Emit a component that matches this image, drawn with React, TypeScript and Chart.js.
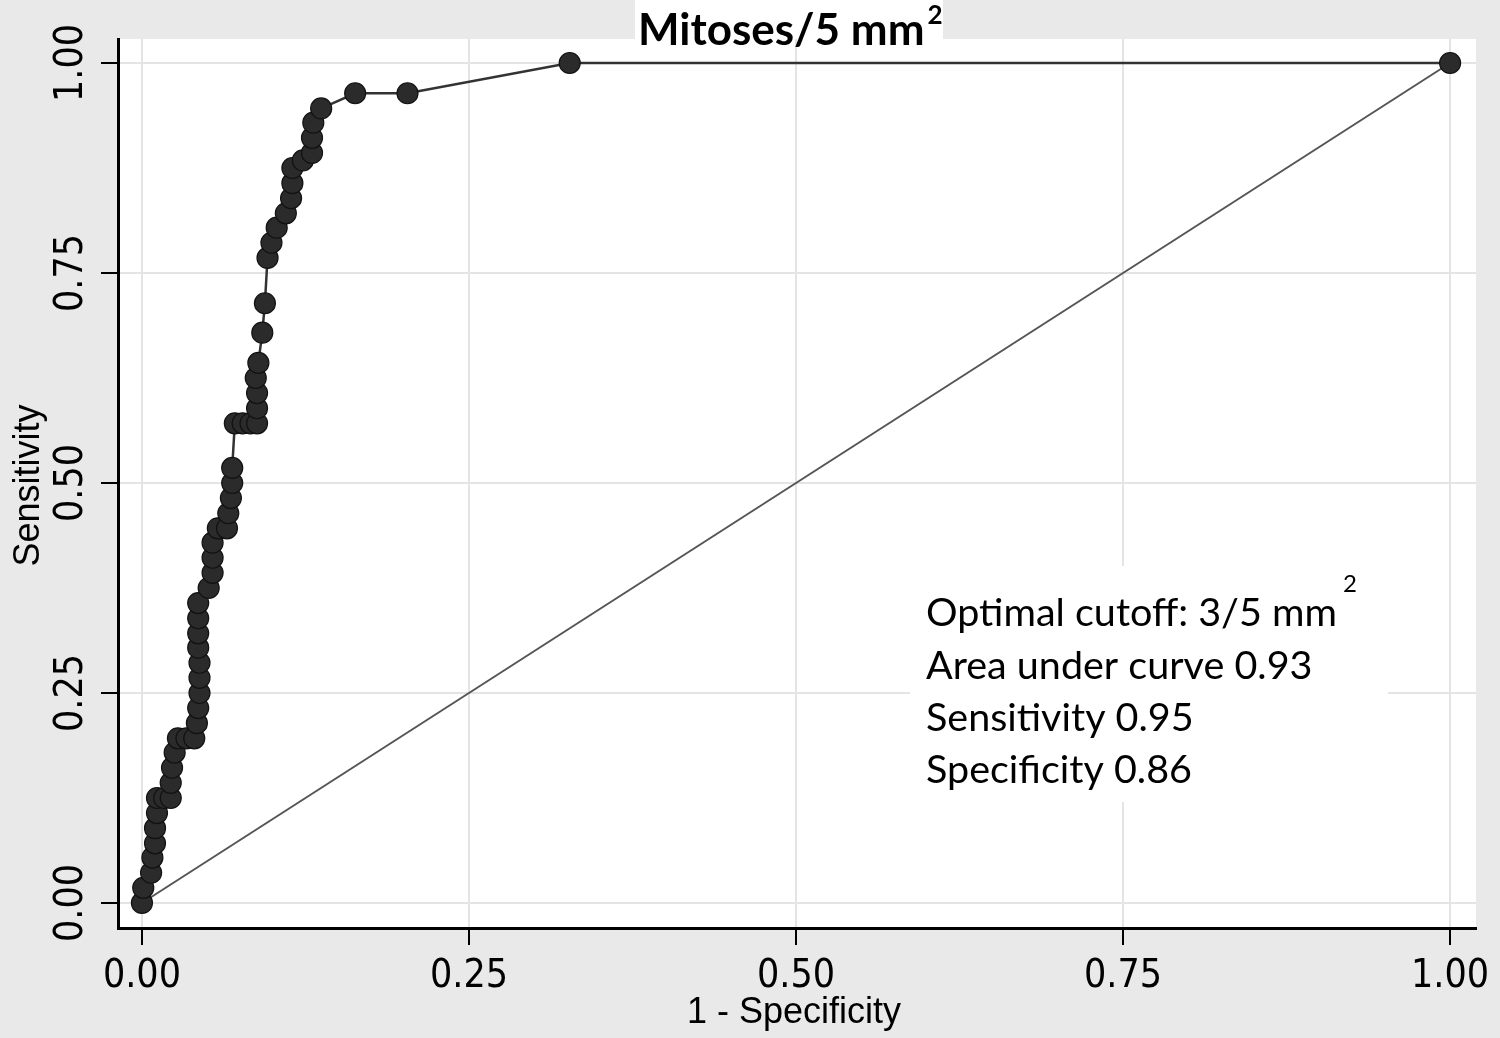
import React, { useEffect, useRef } from "react";
import { Chart, registerables } from "chart.js";

Chart.register(...registerables);

// ROC curve points: 1 - specificity (x) and sensitivity (y)
const oneMinusSpecificity = [
  0, 0.001, 0.007, 0.008, 0.01, 0.01, 0.0115, 0.0115, 0.017, 0.022,
  0.022, 0.023, 0.025, 0.0275, 0.034, 0.04, 0.042, 0.043, 0.044, 0.044,
  0.044, 0.043, 0.043, 0.043, 0.043, 0.051, 0.054, 0.054, 0.054, 0.058,
  0.065, 0.066, 0.068, 0.069, 0.069, 0.071, 0.077, 0.083, 0.088, 0.088,
  0.088, 0.087, 0.089, 0.092, 0.094, 0.096, 0.099, 0.103, 0.11, 0.114,
  0.115, 0.115, 0.123, 0.13, 0.13, 0.131, 0.137, 0.163, 0.203, 0.327, 1,
];
const sensitivity = [
  0, 0.018, 0.036, 0.054, 0.071, 0.089, 0.107, 0.125, 0.125, 0.125,
  0.143, 0.161, 0.179, 0.196, 0.196, 0.196, 0.214, 0.232, 0.25, 0.268,
  0.286, 0.304, 0.321, 0.339, 0.357, 0.375, 0.393, 0.411, 0.429, 0.446,
  0.446, 0.464, 0.482, 0.5, 0.518, 0.571, 0.571, 0.571, 0.571, 0.589,
  0.607, 0.625, 0.643, 0.679, 0.714, 0.768, 0.786, 0.804, 0.821, 0.839,
  0.857, 0.875, 0.884, 0.893, 0.911, 0.929, 0.946, 0.964, 0.964, 1, 1,
];
const referenceX = [0, 1];
const referenceY = [0, 1];

const tickValues = [0, 0.25, 0.5, 0.75, 1];
const tickLabels = ["0.00", "0.25", "0.50", "0.75", "1.00"];

const chartTitle = "Mitoses/5 mm";
const chartTitleSup = "2";
const xAxisTitle = "1 - Specificity";
const yAxisTitle = "Sensitivity";
const annotationLines = [
  "Optimal cutoff: 3/5 mm",
  "Area under curve 0.93",
  "Sensitivity 0.95",
  "Specificity 0.86",
];
const annotationSup = "2";

const TICK_FONT = '"Liberation Sans Narrow", "DejaVu Sans Condensed", "Liberation Sans", Arial, sans-serif';
const TITLE_FONT = '"Liberation Sans", Arial, sans-serif';
const TEXT_FONT = 'Lato, "Open Sans", sans-serif';

export default function App() {
  const canvasRef = useRef<HTMLCanvasElement | null>(null);

  useEffect(() => {
    document.body.style.margin = "0";
    document.body.style.background = "#e9e9e9";
    const canvas = canvasRef.current;
    if (!canvas) return;

    const decorPlugin = {
      id: "decor",
      beforeDraw(chart: any) {
        const { ctx, chartArea } = chart;
        ctx.save();
        ctx.fillStyle = "#e9e9e9";
        ctx.fillRect(0, 0, chart.width, chart.height);
        ctx.fillStyle = "#ffffff";
        ctx.fillRect(chartArea.left, chartArea.top, chartArea.right - chartArea.left, chartArea.bottom - chartArea.top);
        ctx.restore();
      },
      beforeDatasetsDraw(chart: any) {
        const { ctx } = chart;
        // white box behind annotation text (hides gridlines)
        ctx.save();
        ctx.fillStyle = "#ffffff";
        ctx.fillRect(910, 566, 478, 236);
        ctx.restore();
      },
      afterDraw(chart: any) {
        const { ctx, chartArea } = chart;
        const yScale = chart.scales.y;
        ctx.save();
        // y tick labels rotated
        ctx.fillStyle = "#000";
        ctx.font = `39px ${TICK_FONT}`;
        ctx.textAlign = "center";
        ctx.textBaseline = "middle";
        tickValues.forEach((v, i) => {
          const py = yScale.getPixelForValue(v);
          ctx.save();
          ctx.translate(72, py);
          ctx.rotate(-Math.PI / 2);
          ctx.fillText(tickLabels[i], 0, 0);
          ctx.restore();
        });
        // axis titles
        ctx.font = `36px ${TITLE_FONT}`;
        ctx.textBaseline = "middle";
        ctx.save();
        ctx.translate(29, (chartArea.top + chartArea.bottom) / 2 + 2);
        ctx.rotate(-Math.PI / 2);
        ctx.fillText(yAxisTitle, 0, 0);
        ctx.restore();
        ctx.fillText(xAxisTitle, 794, 1013);

        // chart title with white box
        ctx.fillStyle = "#ffffff";
        ctx.fillRect(635, 0, 308, 39);
        ctx.fillStyle = "#000";
        ctx.font = `bold 44px ${TEXT_FONT}`;
        ctx.textAlign = "left";
        ctx.textBaseline = "alphabetic";
        const tw = ctx.measureText(chartTitle).width;
        const tx = 638;
        ctx.fillText(chartTitle, tx, 45);
        ctx.font = `bold 26px ${TEXT_FONT}`;
        ctx.fillText(chartTitleSup, tx + tw + 3, 24);

        // annotation text
        ctx.font = `39.5px ${TEXT_FONT}`;
        const ax = 926;
        const baselines = [626, 679, 731, 783];
        annotationLines.forEach((line, i) => {
          ctx.fillText(line, ax, baselines[i]);
        });
        const w0 = ctx.measureText(annotationLines[0]).width;
        ctx.font = `24px ${TEXT_FONT}`;
        ctx.fillText(annotationSup, ax + w0 + 6, 592);
        ctx.restore();
      },
    };

    const rocData = oneMinusSpecificity.map((x, i) => ({ x, y: sensitivity[i] }));
    const refData = referenceX.map((x, i) => ({ x, y: referenceY[i] }));

    const chart = new Chart(canvas, {
      type: "scatter",
      data: {
        datasets: [
          {
            label: "ROC",
            data: rocData,
            showLine: true,
            borderColor: "#333333",
            borderWidth: 2.5,
            pointRadius: 10.5,
            pointBackgroundColor: "#2b2b2b",
            pointBorderColor: "#121212",
            pointBorderWidth: 1.2,
          },
          {
            label: "Reference",
            data: refData,
            showLine: true,
            borderColor: "#555555",
            borderWidth: 2,
            pointRadius: 0,
          },
        ],
      },
      options: {
        responsive: false,
        animation: false,
        events: [],
        layout: { padding: { top: 39, right: 24, left: 0, bottom: 0 } },
        plugins: {
          legend: { display: false },
          tooltip: { enabled: false },
          title: { display: false },
        },
        scales: {
          x: {
            type: "linear",
            min: -0.0183,
            max: 1.0198,
            afterBuildTicks: (s: any) => {
              s.ticks = tickValues.map((v) => ({ value: v }));
            },
            afterFit: (s: any) => {
              s.height = 110;
            },
            grid: {
              color: "#e4e4e4",
              lineWidth: 2,
              tickColor: "#000",
              tickLength: 17,
              tickWidth: 2,
            },
            border: { color: "#000", width: 3 },
            ticks: {
              color: "#000",
              font: { size: 39, family: TICK_FONT },
              padding: 8,
              maxRotation: 0,
              callback: (v: any) => {
                const i = tickValues.indexOf(Number(v));
                return i >= 0 ? tickLabels[i] : "";
              },
            },
          },
          y: {
            type: "linear",
            min: -0.0298,
            max: 1.0286,
            afterBuildTicks: (s: any) => {
              s.ticks = tickValues.map((v) => ({ value: v }));
            },
            afterFit: (s: any) => {
              s.width = 118;
            },
            grid: {
              color: "#e4e4e4",
              lineWidth: 2,
              tickColor: "#000",
              tickLength: 17,
              tickWidth: 2,
            },
            border: { color: "#000", width: 3 },
            ticks: { display: false },
          },
        },
      },
      plugins: [decorPlugin],
    });

    return () => {
      chart.destroy();
    };
  }, []);

  return (
    <div style={{ width: 1500, height: 1038, background: "#e9e9e9" }}>
      <canvas ref={canvasRef} width={1500} height={1038} style={{ display: "block", width: 1500, height: 1038 }} />
    </div>
  );
}
